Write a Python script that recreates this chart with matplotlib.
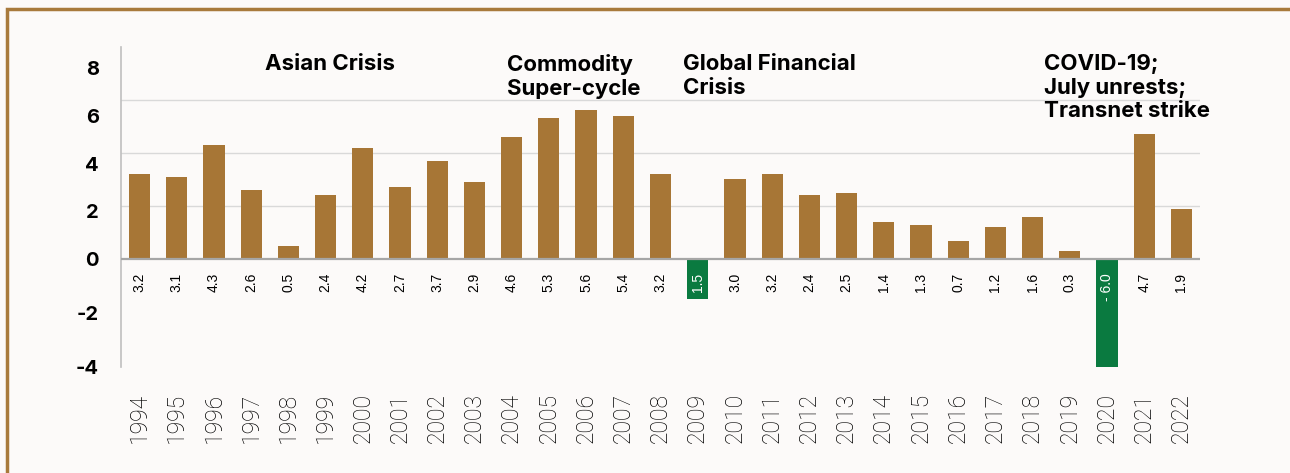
import matplotlib
matplotlib.use("Agg")
import matplotlib.pyplot as plt
from matplotlib.patches import Rectangle

# ---- data ----
years = [str(y) for y in range(1994, 2023)]
growth = [3.2, 3.1, 4.3, 2.6, 0.5, 2.4, 4.2, 2.7, 3.7, 2.9, 4.6, 5.3, 5.6, 5.4,
          3.2, -1.5, 3.0, 3.2, 2.4, 2.5, 1.4, 1.3, 0.7, 1.2, 1.6, 0.3, -6.0, 4.7, 1.9]
value_labels = ["3.2", "3.1", "4.3", "2.6", "0.5", "2.4", "4.2", "2.7", "3.7", "2.9",
                "4.6", "5.3", "5.6", "5.4", "3.2", "1.5", "3.0", "3.2", "2.4", "2.5",
                "1.4", "1.3", "0.7", "1.2", "1.6", "0.3", "- 6.0", "4.7", "1.9"]
ytick_labels = ["8", "6", "4", "2", "0", "-2", "-4"]
grid_values = [2, 4, 6]
events = [("Asian Crisis", 1997.86),
          ("Commodity\nSuper-cycle", 2004.37),
          ("Global Financial\nCrisis", 2009.1),
          ("COVID-19;\nJuly unrests;\nTransnet strike", 2018.8)]

# ---- layout / style ----
W, H = 1290, 473
BROWN = "#A77636"
GREEN = "#0A7A40"
BG = "#FCFAF9"
ytick_pos = [7.2, 5.4, 3.6, 1.8, 0.0, -2.03, -4.05]  # label placement as in the reference

fig = plt.figure(figsize=(W / 100, H / 100), dpi=100, facecolor=BG)
ax = fig.add_axes([121 / W, 1 - 366.7 / H, (1200 - 121) / W, (366.7 - 46.7) / H])
ax.set_facecolor("none")

x = list(range(len(years)))
colors = [GREEN if v < 0 else BROWN for v in growth]
ax.bar(x, growth, width=0.57, color=colors, zorder=3)

ax.set_xlim(-0.5, len(years) - 0.5)
ax.set_ylim(-4, 8)

for g in grid_values:
    ax.axhline(g, color="#D9D9D9", lw=1.0, zorder=1)
ax.axhline(0, color="#A6A6A6", lw=1.6, zorder=4)

for s in ["top", "right", "bottom"]:
    ax.spines[s].set_visible(False)
ax.spines["left"].set_color("#BFBFBF")
ax.spines["left"].set_linewidth(1.2)

# y tick labels
ax.set_yticks(ytick_pos)
ax.set_yticklabels(ytick_labels, fontsize=14.5, fontweight="bold", family="Inter")
ax.tick_params(axis="y", length=0, pad=16)

# x tick labels (years), bottom-aligned and rotated
ax.set_xticks(x)
ax.set_xticklabels(years, rotation=90, va="bottom", ha="center",
                   fontsize=16.5, family="Roboto", fontweight="light", color="#000000")
ax.tick_params(axis="x", length=0, pad=55)

# value labels under the zero line
for xi, v, lab in zip(x, growth, value_labels):
    col = "white" if v < 0 else "black"
    ax.text(xi, -0.52, lab, rotation=90, ha="center", va="top", fontsize=10,
            family="Liberation Sans", color=col, zorder=5)

# event annotations
for txt, yr in events:
    ax.text(yr - 1994 - 0.5, 7.72, txt, ha="left", va="top", fontsize=16,
            fontweight="bold", family="Inter", color="black", linespacing=1.22, zorder=6)

# frame
fig.patches.append(Rectangle((7 / W, -0.05), 1.2, 1 - 9 / H + 0.05, transform=fig.transFigure,
                             fill=False, edgecolor="#A87A3C", lw=2.5))

fig.savefig("out.png", dpi=100, facecolor=BG)
